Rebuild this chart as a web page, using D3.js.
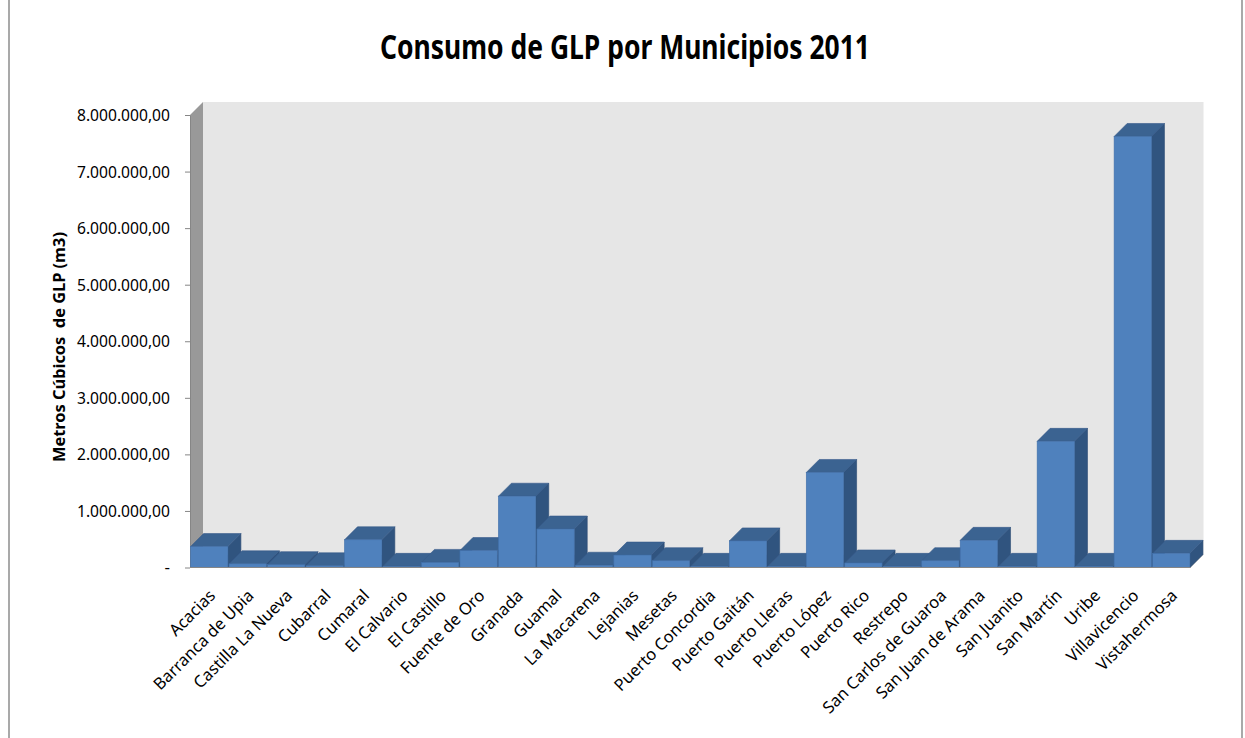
<!DOCTYPE html>
<html>
<head>
<meta charset="utf-8">
<script src="https://cdn.jsdelivr.net/npm/d3@7"></script>
<style>
  body { margin: 0; background: #fff; }
  svg { display: block; }
</style>
</head>
<body>
<script>
// Municipalities of Meta and their 2011 LPG consumption (m3)
const municipios = [
  "Acacias", "Barranca de Upia", "Castilla La Nueva", "Cubarral", "Cumaral",
  "El Calvario", "El Castillo", "Fuente de Oro", "Granada", "Guamal",
  "La Macarena", "Lejanias", "Mesetas", "Puerto Concordia", "Puerto Gaitán",
  "Puerto Lleras", "Puerto López", "Puerto Rico", "Restrepo", "San Carlos de Guaroa",
  "San Juan de Arama", "San Juanito", "San Martín", "Uribe", "Villavicencio",
  "Vistahermosa"
];
const consumo = [
  370000, 65000, 50000, 30000, 490000,
  20000, 90000, 300000, 1260000, 680000,
  40000, 220000, 120000, 20000, 470000,
  20000, 1680000, 80000, 20000, 120000,
  480000, 20000, 2230000, 20000, 7620000,
  250000
];
const yTicks = [0, 1000000, 2000000, 3000000, 4000000, 5000000, 6000000, 7000000, 8000000];

const W = 1245, H = 738;
const svg = d3.select("body").append("svg").attr("width", W).attr("height", H);

// front plane of the 3-D plot box and the depth offset of the walls
const pLeft = 190, pRight = 1190.5, pTop = 115, pBase = 567.5, depth = 13;

const x = d3.scaleBand().domain(municipios).range([pLeft, pRight])
  .paddingInner(0.03).paddingOuter(0.015);
const y = d3.scaleLinear().domain([0, 8000000]).range([pBase, pTop]);

const es = d3.formatLocale({ decimal: ",", thousands: ".", grouping: [3], currency: ["", ""] });
const fmt = es.format(",.2f");

// outer chart frame
svg.append("line").attr("x1", 9).attr("x2", 9).attr("y1", 0).attr("y2", H)
  .attr("stroke", "#8c8c8c").attr("stroke-width", 1.5);
svg.append("line").attr("x1", 1242).attr("x2", 1242).attr("y1", 0).attr("y2", H)
  .attr("stroke", "#8c8c8c").attr("stroke-width", 1.5);

// title
svg.append("text")
  .attr("x", 625).attr("y", 59)
  .attr("text-anchor", "middle")
  .attr("font-family", "'Noto Sans', 'Open Sans', sans-serif")
  .attr("font-weight", "bold")
  .attr("font-size", 34)
  .attr("textLength", 490)
  .attr("lengthAdjust", "spacingAndGlyphs")
  .attr("fill", "#000")
  .text("Consumo de GLP por Municipios 2011");

// walls: side wall, floor, back wall
const poly = pts => pts.map(p => p.join(",")).join(" ");
svg.append("polygon")
  .attr("points", poly([[pLeft, pTop], [pLeft + depth, pTop - depth], [pLeft + depth, pBase - depth], [pLeft, pBase]]))
  .attr("fill", "#999999");
svg.append("polygon")
  .attr("points", poly([[pLeft, pBase], [pLeft + depth, pBase - depth], [pRight + depth, pBase - depth], [pRight, pBase]]))
  .attr("fill", "#999999");
svg.append("rect")
  .attr("x", pLeft + depth).attr("y", pTop - depth)
  .attr("width", pRight - pLeft).attr("height", pBase - pTop)
  .attr("fill", "#e6e6e6");

// y axis
const yAxis = d3.axisLeft(y)
  .tickValues(yTicks)
  .tickSize(5)
  .tickSizeOuter(0)
  .tickPadding(15)
  .tickFormat(d => d === 0 ? "-" : fmt(d));
const gy = svg.append("g").attr("transform", `translate(${pLeft},0)`).call(yAxis);
gy.select(".domain").attr("stroke", "#868686");
gy.selectAll(".tick line").attr("stroke", "#868686");
gy.selectAll(".tick text")
  .attr("font-family", "'Noto Sans', 'Open Sans', sans-serif")
  .attr("font-size", 17)
  .attr("fill", "#000")
  .each(function (d) {
    if (d !== 0) d3.select(this).attr("textLength", 93).attr("lengthAdjust", "spacingAndGlyphs");
  });

// y axis title
svg.append("text")
  .attr("transform", "translate(65,347) rotate(-90)")
  .attr("text-anchor", "middle")
  .attr("font-family", "'Noto Sans', 'Open Sans', sans-serif")
  .attr("font-weight", "bold")
  .attr("font-size", 16)
  .attr("textLength", 230)
  .attr("lengthAdjust", "spacingAndGlyphs")
  .style("white-space", "pre")
  .attr("fill", "#000")
  .text("Metros Cúbicos  de GLP (m3)");

// bars, drawn left to right so each column hides the side face of the previous one
const bars = svg.append("g");
municipios.forEach((m, i) => {
  const x0 = x(m), x1 = x0 + x.bandwidth();
  const yt = y(consumo[i]);
  const g = bars.append("g");
  g.append("polygon")
    .attr("points", poly([[x1, yt], [x1 + depth, yt - depth], [x1 + depth, pBase - depth], [x1, pBase]]))
    .attr("fill", "#30547f").attr("stroke", "#2a4a72").attr("stroke-width", 0.6);
  g.append("polygon")
    .attr("points", poly([[x0, yt], [x0 + depth, yt - depth], [x1 + depth, yt - depth], [x1, yt]]))
    .attr("fill", "#3b6391").attr("stroke", "#35598a").attr("stroke-width", 0.6);
  g.append("rect")
    .attr("x", x0).attr("y", yt)
    .attr("width", x1 - x0).attr("height", pBase - yt)
    .attr("fill", "#4f81bd").attr("stroke", "#4170aa").attr("stroke-width", 0.6);
});

// category axis line
svg.append("line")
  .attr("x1", pLeft).attr("x2", pRight).attr("y1", pBase).attr("y2", pBase)
  .attr("stroke", "#868686");

// category labels at -45 degrees
svg.append("g").selectAll("text")
  .data(municipios)
  .join("text")
  .attr("transform", d => `translate(${x(d) + x.bandwidth() / 2 + 3},${pBase + 25}) rotate(-45)`)
  .attr("text-anchor", "end")
  .attr("dy", "0.35em")
  .attr("font-family", "'Noto Sans', 'Open Sans', sans-serif")
  .attr("font-size", 16.5)
  .attr("fill", "#000")
  .text(d => d);
</script>
</body>
</html>
